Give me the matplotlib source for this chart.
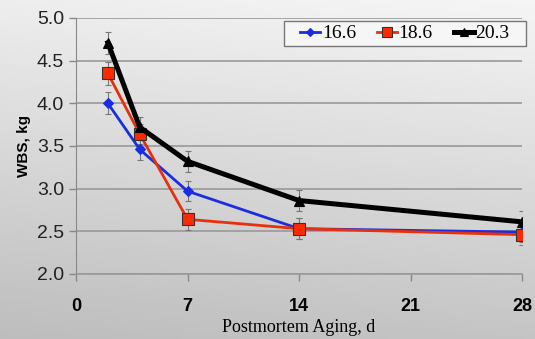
import numpy as np
import matplotlib.pyplot as plt
from matplotlib.patches import Rectangle

days = [2, 4, 7, 14, 28]
wbs_166 = [4.00, 3.46, 2.97, 2.53, 2.49]
wbs_186 = [4.35, 3.64, 2.64, 2.53, 2.46]
wbs_203 = [4.71, 3.72, 3.32, 2.86, 2.61]
err_166 = [0.13, 0.12, 0.12, 0.12, 0.12]
err_186 = [0.13, 0.12, 0.12, 0.12, 0.12]
err_203 = [0.13, 0.12, 0.12, 0.12, 0.13]
labels = ['16.6', '18.6', '20.3']
x_ticks = [0, 7, 14, 21, 28]
y_ticks = [2.0, 2.5, 3.0, 3.5, 4.0, 4.5, 5.0]

plt.rcParams['font.family'] = ['Liberation Sans', 'DejaVu Sans']

fig = plt.figure(figsize=(5.35, 3.39), dpi=100)

# gradient background, light at top right, darker at bottom left
bg = fig.add_axes([0, 0, 1, 1], zorder=-10)
yy, xx = np.mgrid[0:1:200j, 0:1:200j]
shade = 0.74 + 0.19 * yy + 0.03 * xx
bg.imshow(shade, cmap='gray', vmin=0, vmax=1, origin='lower',
          extent=[0, 1, 0, 1], aspect='auto')
bg.axis('off')

ax = fig.add_axes([0.142, 0.192, 0.834, 0.755])
ax.set_facecolor('none')

series = [
    (wbs_166, err_166, '#1a2ee0', 'D', 5, 2.0, '#1a2ee0', '#1a2ee0'),
    (wbs_186, err_186, '#e8300c', 's', 8, 2.0, '#ff2a00', '#333333'),
    (wbs_203, err_203, 'black', '^', 7, 3.6, 'black', 'black'),
]
handles = []
for (vals, errs, col, mk, ms, lw, fc, ec), lab in zip(series, labels):
    ax.errorbar(days, vals, yerr=errs, fmt='none', ecolor='#777777',
                elinewidth=0.8, capsize=2.5, capthick=0.8, zorder=2)
    ln, = ax.plot(days, vals, color=col, marker=mk, markersize=ms, linewidth=lw,
                  markerfacecolor=fc, markeredgecolor=ec, markeredgewidth=0.8,
                  label=lab, zorder=3)
    handles.append(ln)

ax.set_xlim(0, 28)
ax.set_ylim(2.0, 5.0)
ax.set_xticks(x_ticks)
ax.set_yticks(y_ticks)
ax.set_yticklabels(['%.1f' % v for v in y_ticks])
ax.yaxis.grid(True, color='#999999', linewidth=1.2)
ax.set_axisbelow(True)
for s in ['top', 'right']:
    ax.spines[s].set_visible(False)
ax.spines['left'].set_color('#888888')
ax.spines['bottom'].set_color('#999999')
ax.spines['bottom'].set_linewidth(1.2)
ax.tick_params(axis='y', labelsize=14, colors='#888888', labelcolor='#222222', length=5, width=1)
ax.tick_params(axis='x', direction='out', labelsize=13, colors='#888888', labelcolor='black',
               length=5, width=1, pad=12)
for t in ax.get_xticklabels():
    t.set_fontweight('bold')

ax.set_ylabel('WBS, kg', fontsize=11, fontweight='bold', labelpad=4)
ax.set_xlabel('Postmortem Aging, d', fontsize=13, family='Liberation Serif', labelpad=3)

# legend box drawn separately so the entries sit centred inside it
box = Rectangle((0.466, 0.891), 0.543, 0.097, transform=ax.transAxes, clip_on=False,
                facecolor='#f6f6f6', edgecolor='#777777', linewidth=1.0, zorder=4)
ax.add_patch(box)
small = []
for ln in handles:
    h, = ax.plot([], [], color=ln.get_color(), marker=ln.get_marker(),
                 markersize=ln.get_markersize() * 0.85, linewidth=ln.get_linewidth(),
                 markerfacecolor=ln.get_markerfacecolor(),
                 markeredgecolor=ln.get_markeredgecolor(), markeredgewidth=0.8)
    small.append(h)
leg = ax.legend(small, labels, loc='center', ncol=3, bbox_to_anchor=(0.7375, 0.939),
                prop={'family': 'Liberation Serif', 'size': 14},
                frameon=False, handlelength=1.0, handletextpad=0.1,
                columnspacing=1.1, borderpad=0, borderaxespad=0)
leg.set_zorder(5)

fig.savefig('out.png', dpi=100)
